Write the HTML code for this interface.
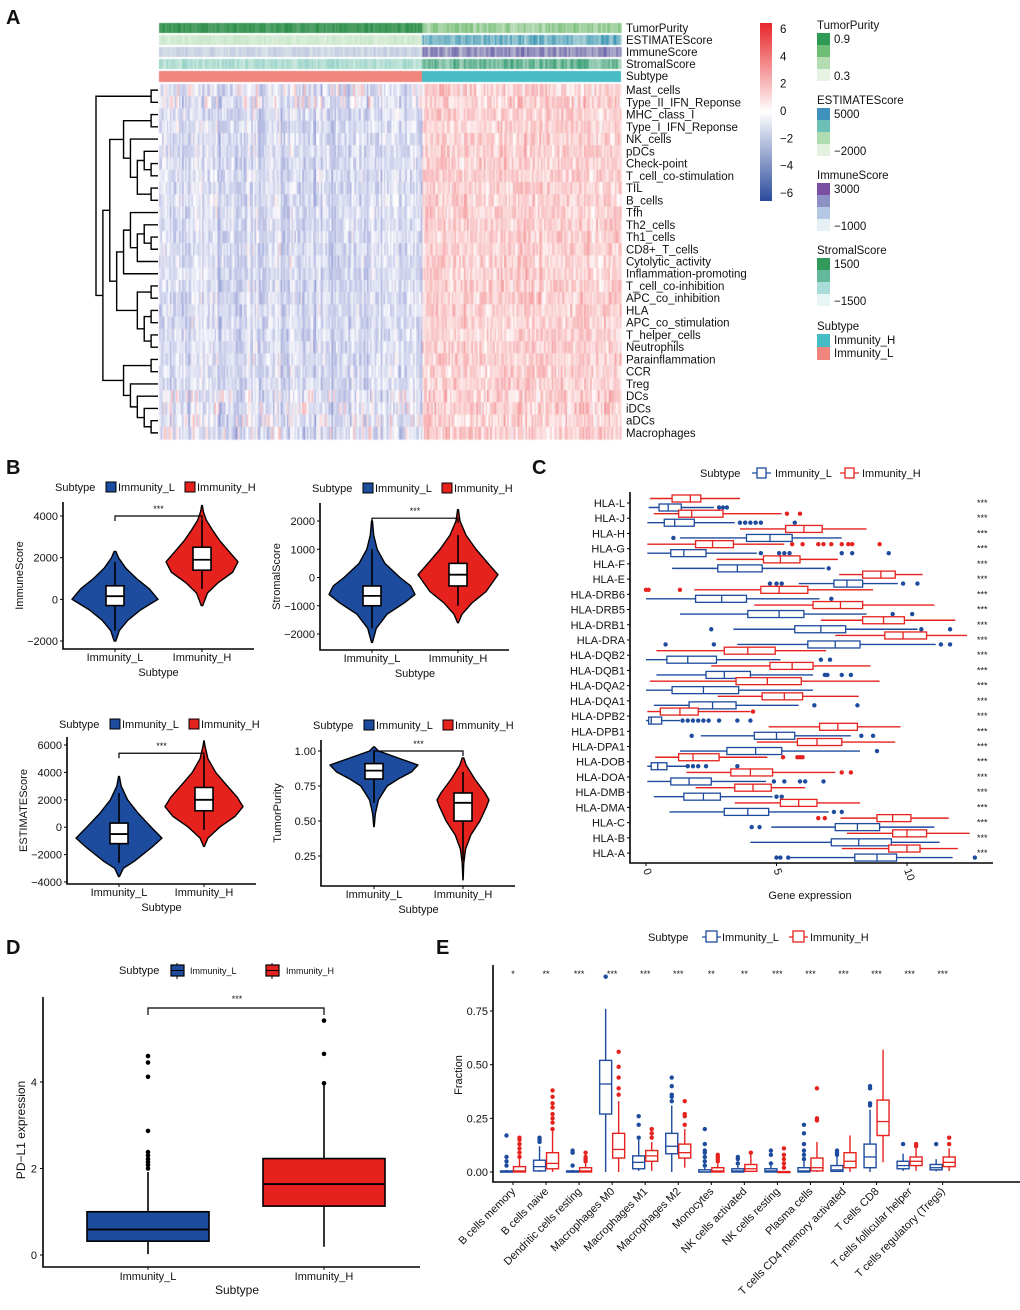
<!DOCTYPE html>
<html><head><meta charset="utf-8">
<style>
html,body{margin:0;padding:0;background:#fff;}
#wrap{position:relative;width:1020px;height:1310px;overflow:hidden;font-family:"Liberation Sans",Arial,sans-serif;}
canvas{position:absolute;left:0;top:0;}
svg{position:absolute;left:0;top:0;}
text{font-family:"Liberation Sans",Arial,sans-serif;fill:#111;}
</style></head>
<body>
<div id="wrap">
<canvas id="hm" width="1020" height="460"></canvas>
<svg id="sv" width="1020" height="1310" xmlns="http://www.w3.org/2000/svg">
<g font-size="20" font-weight="bold">
<text x="6" y="24">A</text>
<text x="6" y="474">B</text>
<text x="532" y="474">C</text>
<text x="6" y="954">D</text>
<text x="436" y="954">E</text>
</g>
<g id="gA" font-size="11.5"></g>
<g id="gB" font-size="11"></g>
<g id="gC" font-size="11"></g>
<g id="gD" font-size="11"></g>
<g id="gE" font-size="11"></g>
</svg>
</div>
<script>
// ---------- DATA ----------
const rowLabels=["Mast_cells","Type_II_IFN_Reponse","MHC_class_I","Type_I_IFN_Reponse","NK_cells","pDCs","Check-point","T_cell_co-stimulation","TIL","B_cells","Tfh","Th2_cells","Th1_cells","CD8+_T_cells","Cytolytic_activity","Inflammation-promoting","T_cell_co-inhibition","APC_co_inhibition","HLA","APC_co_stimulation","T_helper_cells","Neutrophils","Parainflammation","CCR","Treg","DCs","iDCs","aDCs","Macrophages"];
const colorbarTicks=[6,4,2,0,-2,-4,-6];
const dendroTree=[[0,1],[[[[2,3],[4,[[5,[6,7]],[8,9]]]],[[[10,[[11,[12,13]],14]],15],[[16,17],[[18,19],[20,21]]]]],[[22,23],[24,[25,[26,[27,28]]]]]]];

// Panel B violins: density profiles [value, relative density]
const vioImmuneL=[[-2000,.02],[-1500,.1],[-1000,.3],[-500,.6],[0,1],[500,.8],[1000,.5],[1500,.25],[2000,.08],[2300,.02]];
const vioImmuneH=[[-300,.02],[300,.15],[800,.45],[1300,.85],[1800,1],[2300,.75],[2800,.5],[3300,.3],[3800,.12],[4200,.04],[4500,.01]];
const vioStromalL=[[-2300,.01],[-1800,.1],[-1300,.35],[-900,.75],[-600,1],[-300,.9],[0,.65],[500,.3],[1000,.12],[1500,.04],[2000,.01]];
const vioStromalH=[[-1600,.01],[-1300,.1],[-900,.35],[-500,.7],[0,.95],[100,1],[500,.75],[1000,.45],[1500,.2],[2000,.05],[2400,.01]];
const vioEstL=[[-3600,.01],[-3000,.1],[-2500,.35],[-1500,.75],[-800,1],[0,.75],[1000,.45],[2000,.2],[3000,.05],[3700,.01]];
const vioEstH=[[-1400,.01],[-800,.1],[0,.4],[800,.8],[1500,1],[2200,.85],[3000,.6],[4000,.3],[5000,.1],[6000,.02],[6300,.005]];
const vioTpL=[[.46,.005],[.55,.03],[.65,.1],[.75,.3],[.8,.55],[.85,.85],[.9,1],[.95,.55],[1,.1],[1.03,.01]];
const vioTpH=[[.08,.005],[.2,.03],[.3,.1],[.4,.3],[.5,.65],[.6,.9],[.65,1],[.7,.85],[.8,.45],[.9,.12],[.95,.03]];
// boxes [lo,q1,med,q3,hi]
const boxImmune=[[-1500,-300,150,650,1800],[500,1400,1900,2500,3800]];
const boxStromal=[[-1800,-1000,-650,-300,1000],[-1000,-300,100,500,1500]];
const boxEst=[[-2600,-1200,-500,300,2500],[-200,1200,2000,2900,5200]];
const boxTp=[[.63,.8,.86,.91,1.0],[.22,.5,.63,.7,.85]];

// Panel C
const hlaGenes=["HLA-L","HLA-J","HLA-H","HLA-G","HLA-F","HLA-E","HLA-DRB6","HLA-DRB5","HLA-DRB1","HLA-DRA","HLA-DQB2","HLA-DQB1","HLA-DQA2","HLA-DQA1","HLA-DPB2","HLA-DPB1","HLA-DPA1","HLA-DOB","HLA-DOA","HLA-DMB","HLA-DMA","HLA-C","HLA-B","HLA-A"];
const hlaRed=[[0.15,1.0,1.7,2.1,3.6],[0.3,1.25,1.75,2.95,5.2],[3.6,5.35,6.05,6.75,8.45],[0.05,1.9,2.55,3.35,5.3],[2.7,4.5,5.15,5.9,7.35],[7.4,8.3,9.0,9.55,10.6],[1.85,4.4,5.1,6.2,8.7],[4.15,6.4,7.45,8.3,11.05],[6.7,8.3,9.1,9.9,11.85],[7.25,9.15,9.85,10.75,12.3],[0.4,3.0,3.9,4.95,6.9],[2.5,4.75,5.6,6.4,8.6],[0.15,3.45,4.65,5.95,8.95],[2.75,4.45,5.3,6.0,8.15],[0.05,0.55,1.3,2.0,4.0],[4.7,6.65,7.35,8.1,9.75],[4.25,5.8,6.55,7.5,9.55],[0.35,1.25,1.8,2.8,4.65],[1.55,3.25,4.0,4.85,7.25],[1.9,3.4,4.1,4.8,6.1],[3.4,5.15,5.85,6.55,8.2],[7.45,8.85,9.45,10.15,11.6],[7.7,9.45,10.0,10.75,12.4],[7.5,9.3,10.0,10.5,11.95]];
const hlaBlue=[[0.1,0.5,0.85,1.35,2.6],[0.05,0.7,1.1,1.85,3.4],[1.3,3.85,4.75,5.6,7.5],[0.05,0.95,1.45,2.3,4.25],[1.0,2.75,3.5,4.45,6.85],[5.85,7.2,7.7,8.3,9.65],[0.0,1.9,2.9,3.85,6.65],[1.3,3.9,5.1,6.05,8.45],[3.35,5.7,6.7,7.65,10.4],[3.5,6.2,7.25,8.2,11.1],[0,0.8,1.6,2.7,5.15],[0.4,2.3,3.0,4.0,6.4],[0,1.0,2.2,3.55,6.4],[0.3,1.65,2.55,3.45,5.85],[0,0.1,0.2,0.6,1.3],[2.1,4.15,5.0,5.7,7.85],[1.3,3.1,4.2,5.2,8.2],[0.05,0.2,0.45,0.8,1.55],[0.05,0.95,1.65,2.5,4.6],[0.3,1.45,2.2,2.85,4.85],[0.9,3.0,3.9,4.7,7.0],[4.8,7.25,8.1,8.95,11.05],[4.0,7.1,8.15,9.4,11.25],[5.5,8.0,8.85,9.6,11.75]];
const hlaRedOut=[[],[5.4,5.9],[],[5.6,6.0,6.6,6.8,7.1,7.5,7.75,7.9,8.95],[],[],[0.0,0.1,1.3],[],[],[],[],[],[],[],[4.1],[],[],[5.25,5.8,5.9,6.0],[7.5,7.85],[],[],[6.6,6.85],[],[]];
const hlaBlueOut=[[2.8,2.95,3.1],[3.6,3.8,4.0,4.2,4.4,5.7],[1.05],[4.4,5.1,5.3,5.5,7.5,7.9,9.3],[7.0],[4.75,5.0,5.2,9.85,10.4],[7.1],[9.45,10.2],[2.5,10.55,11.65],[0.75,2.6,11.3,11.65],[6.7,7.05],[6.85,6.95,7.5,7.85],[],[6.45,8.1],[1.4,1.6,1.8,2.0,2.2,2.4,2.8,3.5,4.0],[1.75,8.25,8.7],[8.85],[1.6,1.8,2.0,2.3,3.5],[4.9,5.3,5.9,6.1,6.8],[5.0,5.2],[7.2,7.5],[4.05,4.35],[],[5.0,5.15,5.45,12.6]];
const hlaTicks=[0,5,10];

// Panel D
const pdl1Box=[[0.02,0.32,0.59,1.0,1.92],[0.19,1.13,1.64,2.23,3.92]];
const pdl1Out=[[2.0,2.08,2.15,2.22,2.3,2.38,2.87,4.12,4.45,4.6],[3.97,4.65,5.42]];
const pdl1Ticks=[0,2,4];

// Panel E
const cellTypes=["B cells memory","B cells naive","Dendritic cells resting","Macrophages M0","Macrophages M1","Macrophages M2","Monocytes","NK cells activated","NK cells resting","Plasma cells","T cells CD4 memory activated","T cells CD8","T cells follicular helper","T cells regulatory (Tregs)"];
const cellSig=["*","**","***","***","***","***","**","**","***","***","***","***","***","***"];
const fracBlue=[[0,0,0,0.005,0.01],[0,0.005,0.025,0.055,0.12],[0,0,0,0.005,0.01],[0,0.27,0.41,0.52,0.76],[0.005,0.015,0.045,0.075,0.15],[0,0.085,0.12,0.18,0.31],[0,0,0,0.01,0.02],[0,0,0.005,0.015,0.03],[0,0,0.005,0.015,0.03],[0,0,0.005,0.02,0.05],[0,0.003,0.01,0.03,0.07],[0,0.02,0.07,0.13,0.29],[0.005,0.015,0.03,0.05,0.085],[0.003,0.01,0.02,0.035,0.06]];
const fracRed=[[0,0,0.005,0.025,0.06],[0,0.015,0.04,0.09,0.19],[0,0,0.005,0.02,0.04],[0,0.065,0.105,0.18,0.33],[0.005,0.05,0.075,0.1,0.14],[0.02,0.065,0.09,0.13,0.2],[0,0,0.005,0.02,0.04],[0,0.003,0.015,0.035,0.08],[0,0,0,0.002,0.005],[0,0.005,0.02,0.065,0.14],[0,0.02,0.05,0.09,0.17],[0.045,0.17,0.235,0.335,0.57],[0.005,0.03,0.05,0.07,0.11],[0.005,0.025,0.045,0.07,0.11]];
const fracBlueOut=[[0.03,0.05,0.07,0.17],[0.14,0.15,0.16],[0.03,0.09,0.1],[0.91],[0.16,0.22,0.26],[0.33,0.35,0.36,0.4,0.44],[0.03,0.05,0.07,0.09,0.1,0.13,0.2],[0.04,0.06,0.07],[0.04,0.08,0.1],[0.06,0.08,0.1,0.13,0.18,0.22],[0.08,0.09,0.1],[0.31,0.32,0.39,0.4],[0.13],[0.13]];
const fracRedOut=[[0.07,0.09,0.11,0.13,0.15,0.16],[0.2,0.23,0.25,0.27,0.3,0.32,0.35,0.38],[0.05,0.06,0.07,0.09],[0.36,0.39,0.44,0.49,0.56],[0.16,0.18,0.2],[0.22,0.26,0.27,0.33],[0.05,0.06,0.07,0.08],[0.09],[0.02,0.04,0.06,0.08,0.11],[0.24,0.25,0.39],[],[],[0.12,0.13],[0.13,0.16]];
const fracTicks=[0,0.25,0.5,0.75];

// ---------- HELPERS ----------
const NS="http://www.w3.org/2000/svg";
const BLUE="#1d4b9e", RED="#e5221e";
function mk(tag,attrs,parent,txt){const e=document.createElementNS(NS,tag);for(const k in attrs)e.setAttribute(k,attrs[k]);if(txt!==undefined)e.textContent=txt;parent.appendChild(e);return e;}
function nm(e,n,i){
  
  
  return e;}
function lin(d0,d1,r0,r1){return v=>r0+(v-d0)*(r1-r0)/(d1-d0);}

// ---------- PANEL A ----------
(function(){
  const g=document.getElementById('gA');
  const cv=document.getElementById('hm'),ctx=cv.getContext('2d');
  let seed=12345;function rnd(){seed=(seed*1103515245+12345)%2147483648;return seed/2147483648;}
  function gauss(){return (rnd()+rnd()+rnd()-1.5)*1.4;}
  const x0=159,x1=621,split=422,y0=84,y1=439;
  const nCols=300,cw=(x1-x0)/nCols,rh=(y1-y0)/rowLabels.length;
  function cmap(v){v=Math.max(-6,Math.min(6,v));let t=Math.abs(v)/6;
    if(v<0)return `rgb(${Math.round(255-t*190)},${Math.round(255-t*175)},${Math.round(255-t*75)})`;
    return `rgb(${Math.round(255-t*23)},${Math.round(255-t*217)},${Math.round(255-t*213)})`;}
  const annCols=[[ [40,140,70],[120,190,120] ],[ [200,230,200],[60,150,180] ],[ [190,200,225],[110,100,170] ],[ [150,210,200],[60,160,120] ]];
  for(let c=0;c<nCols;c++){
    const x=x0+c*cw,isH=x>=split;
    const colEff=gauss()*0.7;
    for(let r=0;r<rowLabels.length;r++){
      const noisy=(r<2||r>24)?1.3:1.0;
      let v=(isH?1.25:-1.2)+colEff*(isH?0.5:1)+gauss()*0.8*noisy;
      if(!isH&&(r<2||r>24)&&rnd()<0.1)v=0.8+rnd()*1.2;
      ctx.fillStyle=cmap(v);ctx.fillRect(x,y0+r*rh,cw+0.6,rh+0.6);
    }
    for(let a=0;a<4;a++){const cc=annCols[a][isH?1:0];const j=rnd();
      const mixw=(a===0&&!isH)?0.75+j*0.25:0.35+j*0.65;
      ctx.fillStyle=`rgb(${Math.round(cc[0]+(235-cc[0])*(1-mixw))},${Math.round(cc[1]+(245-cc[1])*(1-mixw))},${Math.round(cc[2]+(235-cc[2])*(1-mixw))})`;
      ctx.fillRect(x,23+a*12,cw+0.6,10);}
  }
  ctx.fillStyle="#ef857d";ctx.fillRect(x0,71,split-x0,11);
  ctx.fillStyle="#48bcc4";ctx.fillRect(split,71,x1-split,11);
  const annNames=["TumorPurity","ESTIMATEScore","ImmuneScore","StromalScore","Subtype"];
  annNames.forEach((n,i)=>nm(mk('text',{x:626,y:32+i*12},g,n),'annotation-label-'+n.toLowerCase()));
  rowLabels.forEach((n,i)=>nm(mk('text',{x:626,y:y0+rh*(i+0.5)+4},g,n),'row-label'));
  function height(t){return Array.isArray(t)?1+Math.max(height(t[0]),height(t[1])):0;}
  const H=height(dendroTree);
  function draw(t){ if(!Array.isArray(t))return {y:y0+rh*(t+0.5),x:158,h:0};
    const a=draw(t[0]),b=draw(t[1]);const h=Math.max(a.h,b.h)+1;const x=158-(h/H)*62;
    nm(mk('path',{d:`M${a.x},${a.y}H${x}V${b.y}H${b.x}`,fill:'none',stroke:'#000','stroke-width':1.4},g),'dendrogram-branch');
    return {y:(a.y+b.y)/2,x:x,h:h};}
  draw(dendroTree);
  const defs=mk('defs',{},g);const lg=mk('linearGradient',{id:'cb',x1:0,y1:0,x2:0,y2:1},defs);
  mk('stop',{offset:'0','stop-color':'#e8262a'},lg);mk('stop',{offset:'0.5','stop-color':'#ffffff'},lg);mk('stop',{offset:'1','stop-color':'#2b4a9c'},lg);
  nm(mk('rect',{x:760,y:23,width:12,height:178,fill:'url(#cb)'},g),'colorbar');
  const cy=lin(6,-6,29,193);
  colorbarTicks.forEach(t=>nm(mk('text',{x:780,y:cy(t)+4},g,t<0?'\u2212'+(-t):String(t)),'colorbar-tick'));
  const legs=[["TumorPurity",["#2e9a55","#6dbe74","#b5dcb1","#e6f3e3"],"0.9","0.3",25],
              ["ESTIMATEScore",["#3f90bd","#6bbfb5","#afdbb0","#e3f2de"],"5000","\u22122000",100],
              ["ImmuneScore",["#7b4ea2","#8c90c3","#b3c8e2","#e6f1f6"],"3000","\u22121000",175],
              ["StromalScore",["#2f9a5a","#63b89a","#a9dcd8","#e7f5f4"],"1500","\u22121500",250]];
  legs.forEach(L=>{nm(mk('text',{x:817,y:L[4]+4},g,L[0]),'legend-title');
    L[1].forEach((c,i)=>nm(mk('rect',{x:817,y:L[4]+8+i*12,width:13,height:12,fill:c},g),'legend-swatch'));
    nm(mk('text',{x:834,y:L[4]+18},g,L[2]),'legend-label');nm(mk('text',{x:834,y:L[4]+55},g,L[3]),'legend-label');});
  nm(mk('text',{x:817,y:330},g,'Subtype'),'legend-title');
  nm(mk('rect',{x:817,y:334,width:13,height:13,fill:'#48bcc4'},g),'legend-swatch-immunity-h');
  nm(mk('rect',{x:817,y:347,width:13,height:13,fill:'#ef857d'},g),'legend-swatch-immunity-l');
  nm(mk('text',{x:834,y:344},g,'Immunity_H'),'legend-label');
  nm(mk('text',{x:834,y:357},g,'Immunity_L'),'legend-label');
})();

// ---------- PANEL B ----------
(function(){
  const g=document.getElementById('gB');
  const plots=[
    {name:'immunescore',title:'ImmuneScore',ax:63,ar:254,ab:649,at:502,dom:[-2000,4000],rng:[641,516],ticks:[4000,2000,0,-2000],cx:[115,202],vio:[vioImmuneL,vioImmuneH],w:[43,36],box:boxImmune,br:4000,leg:487,labs:['4000','2000','0','\u22122000']},
    {name:'stromalscore',title:'StromalScore',ax:320,ar:509,ab:650,at:503,dom:[-2000,2000],rng:[634,521],ticks:[2000,1000,0,-1000,-2000],cx:[372,458],vio:[vioStromalL,vioStromalH],w:[43,40],box:boxStromal,br:2100,leg:488,labs:['2000','1000','0','\u22121000','\u22122000']},
    {name:'estimatescore',title:'ESTIMATEScore',ax:67,ar:256,ab:884,at:737,dom:[-4000,6000],rng:[882,745],ticks:[6000,4000,2000,0,-2000,-4000],cx:[119,204],vio:[vioEstL,vioEstH],w:[43,39],box:boxEst,br:5400,leg:724,labs:['6000','4000','2000','0','\u22122000','\u22124000']},
    {name:'tumorpurity',title:'TumorPurity',ax:321,ar:515,ab:886,at:740,dom:[0.25,1.0],rng:[856,751],ticks:[1.0,0.75,0.5,0.25],cx:[374,463],vio:[vioTpL,vioTpH],w:[44,26],box:boxTp,br:1.0,leg:725,labs:['1.00','0.75','0.50','0.25']}];
  plots.forEach(p=>{
    const y=lin(p.dom[0],p.dom[1],p.rng[0],p.rng[1]);
    const lx=p.ax-8;
    nm(mk('text',{x:lx,y:p.leg+4},g,'Subtype'),'legend-title');
    nm(mk('rect',{x:lx+51,y:p.leg-5,width:10,height:10,fill:BLUE,stroke:'#000','stroke-width':1},g),'legend-key-immunity-l');
    nm(mk('text',{x:lx+63,y:p.leg+4},g,'Immunity_L'),'legend-label');
    nm(mk('rect',{x:lx+130,y:p.leg-5,width:10,height:10,fill:RED,stroke:'#000','stroke-width':1},g),'legend-key-immunity-h');
    nm(mk('text',{x:lx+142,y:p.leg+4},g,'Immunity_H'),'legend-label');
    nm(mk('path',{d:`M${p.ax},${p.at}V${p.ab}H${p.ar}`,fill:'none',stroke:'#000','stroke-width':1.6},g),'axis-'+p.name);
    p.ticks.forEach((t,i)=>{nm(mk('line',{x1:p.ax-3,x2:p.ax,y1:y(t),y2:y(t),stroke:'#000'},g),'y-tick');
      nm(mk('text',{x:p.ax-5,y:y(t)+4,'text-anchor':'end'},g,p.labs[i]),'y-tick-label');});
    nm(mk('text',{transform:`translate(${p.ax-40},${(p.at+p.ab)/2}) rotate(-90)`,'text-anchor':'middle'},g,p.title),'y-axis-title');
    ['Immunity_L','Immunity_H'].forEach((c,i)=>{nm(mk('line',{x1:p.cx[i],x2:p.cx[i],y1:p.ab,y2:p.ab+3,stroke:'#000'},g),'x-tick');
      nm(mk('text',{x:p.cx[i],y:p.ab+12,'text-anchor':'middle'},g,c),'x-tick-label');});
    nm(mk('text',{x:(p.cx[0]+p.cx[1])/2,y:p.ab+27,'text-anchor':'middle'},g,'Subtype'),'x-axis-title');
    [0,1].forEach(i=>{const v=p.vio[i],cx=p.cx[i];
      let d='M'+cx+','+y(v[0][0]);
      v.forEach(pt=>d+=`L${cx+pt[1]*p.w[i]},${y(pt[0])}`);
      for(let k=v.length-1;k>=0;k--)d+=`L${cx-v[k][1]*p.w[i]},${y(v[k][0])}`;
      nm(mk('path',{d:d+'Z',fill:i?RED:BLUE,stroke:'#000','stroke-width':1.4,'stroke-linejoin':'round'},g),'violin-'+(i?'immunity-h':'immunity-l'));
      const b=p.box[i];
      nm(mk('line',{x1:cx,x2:cx,y1:y(b[0]),y2:y(b[4]),stroke:'#000','stroke-width':1.6},g),'box-whisker');
      nm(mk('rect',{x:cx-9,y:y(b[3]),width:18,height:y(b[1])-y(b[3]),fill:'#fff',stroke:'#000','stroke-width':1.6},g),'box');
      nm(mk('line',{x1:cx-9,x2:cx+9,y1:y(b[2]),y2:y(b[2]),stroke:'#000','stroke-width':1.8},g),'box-median');});
    const by=y(p.br);
    nm(mk('path',{d:`M${p.cx[0]},${by+5}V${by}H${p.cx[1]}V${by+5}`,fill:'none',stroke:'#000','stroke-width':1.2},g),'significance-bracket');
    nm(mk('text',{x:(p.cx[0]+p.cx[1])/2,y:by-4,'text-anchor':'middle','font-size':9},g,'***'),'significance-stars');
  });
})();

// ---------- PANEL C ----------
(function(){
  const g=document.getElementById('gC');
  const x=lin(0,10,646,907);const rowY=i=>503+i*15.22;
  nm(mk('text',{x:700,y:477},g,'Subtype'),'legend-title');
  [[755,BLUE,'Immunity_L',775],[843,RED,'Immunity_H',862]].forEach(L=>{
    nm(mk('line',{x1:L[0]-3,x2:L[0]+16,y1:473,y2:473,stroke:L[1],'stroke-width':1.3},g),'legend-key-line');
    nm(mk('rect',{x:L[0]+2,y:468,width:9,height:10,fill:'#fff',stroke:L[1],'stroke-width':1.3},g),'legend-key-box');
    nm(mk('text',{x:L[3],y:477},g,L[2]),'legend-label');});
  nm(mk('path',{d:'M630,492V863H993',fill:'none',stroke:'#000','stroke-width':1.6},g),'axis-c');
  hlaGenes.forEach((n,i)=>{const yy=rowY(i);
    nm(mk('text',{x:625,y:yy+4,'text-anchor':'end'},g,n),'gene-label');
    nm(mk('line',{x1:627,x2:630,y1:yy,y2:yy,stroke:'#000'},g),'y-tick');
    nm(mk('text',{x:977,y:yy+3,'font-size':9},g,'***'),'significance-stars');
    [[hlaRed[i],hlaRedOut[i],RED,-4.5,'red'],[hlaBlue[i],hlaBlueOut[i],BLUE,4.5,'blue']].forEach(s=>{
      const b=s[0],cy=yy+s[3];
      nm(mk('line',{x1:x(b[0]),x2:x(b[4]),y1:cy,y2:cy,stroke:s[2],'stroke-width':1.4},g),'whisker-'+s[4]);
      nm(mk('rect',{x:x(b[1]),y:cy-3.5,width:x(b[3])-x(b[1]),height:7,fill:'#fff',stroke:s[2],'stroke-width':1.3},g),'box-'+s[4]);
      nm(mk('line',{x1:x(b[2]),x2:x(b[2]),y1:cy-3.5,y2:cy+3.5,stroke:s[2],'stroke-width':1.3},g),'median-'+s[4]);
      s[1].forEach(o=>nm(mk('circle',{cx:x(o),cy:cy,r:2.2,fill:s[2]},g),'outlier-'+s[4]));});
  });
  hlaTicks.forEach(t=>{nm(mk('line',{x1:x(t),x2:x(t),y1:863,y2:866,stroke:'#000'},g),'x-tick');
    nm(mk('text',{transform:`translate(${x(t)-3},${870}) rotate(70)`},g,String(t)),'x-tick-label');});
  nm(mk('text',{x:810,y:899,'text-anchor':'middle'},g,'Gene expression'),'x-axis-title');
})();

// ---------- PANEL D ----------
(function(){
  const g=document.getElementById('gD');
  const y=lin(0,4,1255,1082);const cx=[148,324];
  nm(mk('text',{x:119,y:974},g,'Subtype'),'legend-title');
  [[171,BLUE,'Immunity_L',190],[266,RED,'Immunity_H',286]].forEach(L=>{
    nm(mk('line',{x1:L[0]+6,x2:L[0]+6,y1:963,y2:979,stroke:'#000'},g),'legend-key-line');
    nm(mk('rect',{x:L[0],y:965,width:13,height:11,fill:L[1],stroke:'#000','stroke-width':1.2},g),'legend-key-box');
    nm(mk('line',{x1:L[0],x2:L[0]+13,y1:970.5,y2:970.5,stroke:'#000'},g),'legend-key-median');
    nm(mk('text',{x:L[3],y:974,'font-size':9},g,L[2]),'legend-label');});
  nm(mk('path',{d:'M43,997V1267H420',fill:'none',stroke:'#000','stroke-width':1.6},g),'axis-d');
  pdl1Ticks.forEach(t=>{nm(mk('line',{x1:40,x2:43,y1:y(t),y2:y(t),stroke:'#000'},g),'y-tick');
    nm(mk('text',{x:37,y:y(t)+4,'text-anchor':'end'},g,String(t)),'y-tick-label');});
  nm(mk('text',{transform:'translate(25,1130) rotate(-90)','text-anchor':'middle','font-size':12},g,'PD\u2212L1 expression'),'y-axis-title');
  ['Immunity_L','Immunity_H'].forEach((c,i)=>{
    nm(mk('line',{x1:cx[i],x2:cx[i],y1:1267,y2:1270,stroke:'#000'},g),'x-tick');
    nm(mk('text',{x:cx[i],y:1280,'text-anchor':'middle'},g,c),'x-tick-label');
    const b=pdl1Box[i];
    nm(mk('line',{x1:cx[i],x2:cx[i],y1:y(b[0]),y2:y(b[4]),stroke:'#000','stroke-width':1.6},g),'box-whisker');
    nm(mk('rect',{x:cx[i]-61,y:y(b[3]),width:122,height:y(b[1])-y(b[3]),fill:i?RED:BLUE,stroke:'#000','stroke-width':1.6},g),'box-'+(i?'immunity-h':'immunity-l'));
    nm(mk('line',{x1:cx[i]-61,x2:cx[i]+61,y1:y(b[2]),y2:y(b[2]),stroke:'#000','stroke-width':1.8},g),'box-median');
    pdl1Out[i].forEach(o=>nm(mk('circle',{cx:cx[i],cy:y(o),r:2.3,fill:'#000'},g),'outlier'));});
  nm(mk('text',{x:237,y:1294,'text-anchor':'middle','font-size':12},g,'Subtype'),'x-axis-title');
  nm(mk('path',{d:`M${cx[0]},1015V1008H${cx[1]}V1015`,fill:'none',stroke:'#000','stroke-width':1.2},g),'significance-bracket');
  nm(mk('text',{x:237,y:1002,'text-anchor':'middle','font-size':9},g,'***'),'significance-stars');
})();

// ---------- PANEL E ----------
(function(){
  const g=document.getElementById('gE');
  const y=lin(0,0.75,1172,1011);const cx=i=>513+i*33.05;
  nm(mk('text',{x:648,y:941},g,'Subtype'),'legend-title');
  [[705,BLUE,'Immunity_L',722],[792,RED,'Immunity_H',810]].forEach(L=>{
    nm(mk('line',{x1:L[0]-3,x2:L[0]+16,y1:937,y2:937,stroke:L[1],'stroke-width':1.3},g),'legend-key-line');
    nm(mk('rect',{x:L[0]+1,y:931,width:11,height:11,fill:'#fff',stroke:L[1],'stroke-width':1.3},g),'legend-key-box');
    nm(mk('text',{x:L[3],y:941},g,L[2]),'legend-label');});
  nm(mk('path',{d:'M493,965V1182H1020',fill:'none',stroke:'#000','stroke-width':1.6},g),'axis-e');
  fracTicks.forEach(t=>{nm(mk('line',{x1:490,x2:493,y1:y(t),y2:y(t),stroke:'#000'},g),'y-tick');
    nm(mk('text',{x:488,y:y(t)+4,'text-anchor':'end'},g,t.toFixed(2)),'y-tick-label');});
  nm(mk('text',{transform:'translate(462,1075) rotate(-90)','text-anchor':'middle'},g,'Fraction'),'y-axis-title');
  cellTypes.forEach((n,i)=>{const c=cx(i);
    nm(mk('line',{x1:c,x2:c,y1:1182,y2:1185,stroke:'#000'},g),'x-tick');
    nm(mk('text',{transform:`translate(${c+3},${1192}) rotate(-45)`,'text-anchor':'end'},g,n),'x-tick-label');
    nm(mk('text',{x:c,y:977,'text-anchor':'middle','font-size':9},g,cellSig[i]),'significance-stars');
    [[fracBlue[i],fracBlueOut[i],BLUE,-6.5,'blue'],[fracRed[i],fracRedOut[i],RED,6.5,'red']].forEach(s=>{
      const b=s[0],bx=c+s[3];
      nm(mk('line',{x1:bx,x2:bx,y1:y(b[0]),y2:y(b[4]),stroke:s[2],'stroke-width':1.4},g),'whisker-'+s[4]);
      nm(mk('rect',{x:bx-6,y:y(b[3]),width:12,height:Math.max(1,y(b[1])-y(b[3])),fill:'#fff',stroke:s[2],'stroke-width':1.4},g),'box-'+s[4]);
      nm(mk('line',{x1:bx-6,x2:bx+6,y1:y(b[2]),y2:y(b[2]),stroke:s[2],'stroke-width':1.3},g),'median-'+s[4]);
      s[1].forEach(o=>nm(mk('circle',{cx:bx,cy:y(o),r:2.2,fill:s[2]},g),'outlier-'+s[4]));});
  });
})();
</script>
</body></html>
